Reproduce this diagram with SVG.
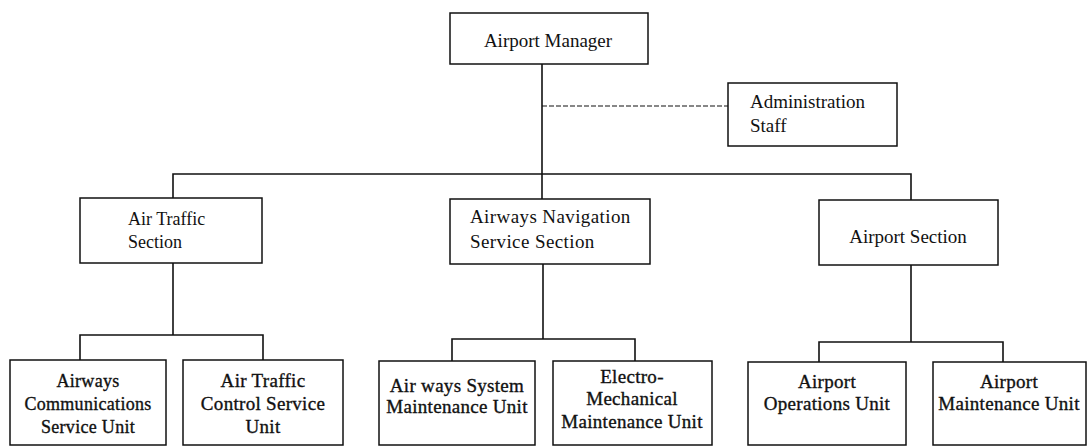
<svg xmlns="http://www.w3.org/2000/svg" width="1089" height="447" viewBox="0 0 1089 447">
<style>
.box{fill:#fff;stroke:#111;stroke-width:1.5}
.t{font-family:"Liberation Serif","Times New Roman",serif;font-size:19px;fill:#111}
.s{font-size:18px}
.b{stroke:#111;stroke-width:0.35;letter-spacing:0.3px}
.c{text-anchor:middle}
.ln{fill:none;stroke:#111;stroke-width:1.6}
.dash{fill:none;stroke:#111;stroke-width:1.2;stroke-dasharray:5 2}
</style>
<rect width="1089" height="447" fill="#fff"/>
<g id="connectors">
<polyline class="ln" points="542,64 542,199"/>
<polyline class="dash" points="542,106 728,106"/>
<polyline class="ln" points="173,198 173,174 911,174 911,200"/>
<polyline class="ln" points="173,263 173,335"/>
<polyline class="ln" points="80,360 80,335 263,335 263,360"/>
<polyline class="ln" points="543,264 543,339"/>
<polyline class="ln" points="452,361 452,339 635,339 635,361"/>
<polyline class="ln" points="911,265 911,342"/>
<polyline class="ln" points="819,362 819,342 1003,342 1003,362"/>
</g>
<g id="airport-manager">
<rect class="box" x="450" y="13" width="198" height="51"/>
<text class="t c" x="548" y="47">Airport Manager</text>
</g>
<g id="administration-staff">
<rect class="box" x="728" y="83" width="169" height="63"/>
<text class="t" x="750" y="108">Administration</text>
<text class="t" x="750" y="132">Staff</text>
</g>
<g id="air-traffic-section">
<rect class="box" x="80" y="198" width="182" height="65"/>
<text class="t s" x="128" y="225">Air Traffic</text>
<text class="t s" x="128" y="248">Section</text>
</g>
<g id="airways-navigation-section">
<rect class="box" x="450" y="199" width="200" height="65"/>
<text class="t" x="470" y="223" letter-spacing="0.4">Airways Navigation</text>
<text class="t" x="470" y="248" letter-spacing="0.4">Service Section</text>
</g>
<g id="airport-section">
<rect class="box" x="819" y="200" width="179" height="65"/>
<text class="t c" x="908" y="243">Airport Section</text>
</g>
<g id="airways-communications-service-unit">
<rect class="box" x="10" y="360" width="156" height="85"/>
<text class="t s b c" x="88" y="387">Airways</text>
<text class="t s b c" x="88" y="410">Communications</text>
<text class="t s b c" x="88" y="433">Service Unit</text>
</g>
<g id="air-traffic-control-service-unit">
<rect class="box" x="183" y="360" width="160" height="85"/>
<text class="t b c" x="263" y="387">Air Traffic</text>
<text class="t b c" x="263" y="410">Control Service</text>
<text class="t b c" x="263" y="433">Unit</text>
</g>
<g id="airways-system-maintenance-unit">
<rect class="box" x="379" y="361" width="156" height="84"/>
<text class="t b c" x="457" y="392">Air ways System</text>
<text class="t b c" x="457" y="413">Maintenance Unit</text>
</g>
<g id="electro-mechanical-maintenance-unit">
<rect class="box" x="553" y="361" width="159" height="84"/>
<text class="t b c" x="632" y="383">Electro-</text>
<text class="t b c" x="632" y="405">Mechanical</text>
<text class="t b c" x="632" y="428">Maintenance Unit</text>
</g>
<g id="airport-operations-unit">
<rect class="box" x="748" y="362" width="158" height="83"/>
<text class="t b c" x="827" y="388">Airport</text>
<text class="t b c" x="827" y="410">Operations Unit</text>
</g>
<g id="airport-maintenance-unit">
<rect class="box" x="933" y="362" width="153" height="83"/>
<text class="t b c" x="1009" y="388">Airport</text>
<text class="t b c" x="1009" y="410">Maintenance Unit</text>
</g>
</svg>
